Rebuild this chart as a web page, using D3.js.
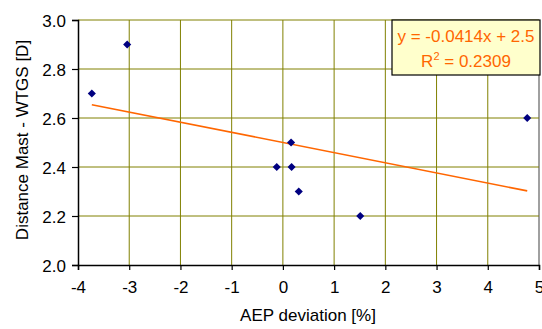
<!DOCTYPE html>
<html>
<head>
<meta charset="utf-8">
<script src="https://cdn.jsdelivr.net/npm/d3@7.9.0/dist/d3.min.js"></script>
<style>
  body { margin: 0; background: #fff; }
  text { font-family: Arial, "Liberation Sans", sans-serif; }
</style>
</head>
<body>
<svg id="chart" width="542" height="329"></svg>
<script>
// data
const aepDeviation = [-3.73, -3.04, 0.16, -0.12, 0.17, 0.31, 1.51, 4.77];
const distance     = [2.7, 2.9, 2.5, 2.4, 2.4, 2.3, 2.2, 2.6];
const xTicks = [-4, -3, -2, -1, 0, 1, 2, 3, 4, 5];
const yTicks = [2.0, 2.2, 2.4, 2.6, 2.8, 3.0];
const trendSlope = -0.0414;
const trendIntercept = 2.5;
const rSquared = 0.2309;

const svg = d3.select('#chart');
const plotLeft = 78, plotRight = 539, plotTop = 20, plotBottom = 265;

const x = d3.scaleLinear().domain([-4, 5]).range([plotLeft, plotRight]);
const y = d3.scaleLinear().domain([2.0, 3.0]).range([plotBottom, plotTop]);

// right border
svg.append('line')
  .attr('x1', plotRight).attr('x2', plotRight).attr('y1', plotTop).attr('y2', plotBottom)
  .attr('stroke', '#808080').attr('stroke-width', 1.5);

// gridlines
svg.append('g').selectAll('line').data(xTicks.filter(d => d > -4 && d < 5)).join('line')
  .attr('x1', d => x(d)).attr('x2', d => x(d))
  .attr('y1', plotTop).attr('y2', plotBottom)
  .attr('stroke', '#808000').attr('stroke-width', 1);
svg.append('g').selectAll('line').data(yTicks.filter(d => d > 2.0)).join('line')
  .attr('x1', plotLeft).attr('x2', plotRight)
  .attr('y1', d => y(d)).attr('y2', d => y(d))
  .attr('stroke', '#808000').attr('stroke-width', 1);

// axes (plain hyphen for negatives, like the original)
const xAxis = svg.append('g')
  .attr('transform', `translate(0,${plotBottom})`)
  .call(d3.axisBottom(x).tickValues(xTicks).tickSize(5).tickPadding(11).tickFormat(d => String(d)));
const yAxis = svg.append('g')
  .attr('transform', `translate(${plotLeft},0)`)
  .call(d3.axisLeft(y).tickValues(yTicks).tickSize(6).tickPadding(6).tickFormat(d => d.toFixed(1)));
[xAxis, yAxis].forEach(g => {
  g.select('.domain').attr('stroke', '#000').attr('stroke-width', 1.5);
  g.selectAll('.tick line').attr('stroke', '#000').attr('stroke-width', 1.2);
  g.selectAll('.tick text').attr('fill', '#000').style('font-size', '17px')
    .style('font-family', 'Arial, "Liberation Sans", sans-serif');
});
yAxis.selectAll('.tick text').attr('dy', '0.36em');

// trendline across the data range
const xMin = d3.min(aepDeviation), xMax = d3.max(aepDeviation);
svg.append('line')
  .attr('x1', x(xMin)).attr('y1', y(trendSlope * xMin + trendIntercept))
  .attr('x2', x(xMax)).attr('y2', y(trendSlope * xMax + trendIntercept))
  .attr('stroke', '#ff6600').attr('stroke-width', 1.6);

// points
svg.append('g').selectAll('path').data(aepDeviation).join('path')
  .attr('d', d3.symbol().type(d3.symbolDiamond2).size(42))
  .attr('transform', (d, i) => `translate(${x(d)},${y(distance[i])})`)
  .attr('fill', '#000080');

// equation box
svg.append('rect')
  .attr('x', 392).attr('y', 20).attr('width', 148).attr('height', 55)
  .attr('fill', '#ffffcc').attr('stroke', '#000').attr('stroke-width', 1.2);
const eq = svg.append('text').attr('x', 466).attr('text-anchor', 'middle')
  .attr('fill', '#ff6600').style('font-size', '17px');
eq.append('tspan').attr('x', 466).attr('y', 42).text(`y = ${trendSlope}x + ${trendIntercept}`);
const r2 = eq.append('tspan').attr('x', 466).attr('y', 67);
r2.append('tspan').text('R');
r2.append('tspan').attr('dy', -7).style('font-size', '11px').text('2');
r2.append('tspan').attr('dy', 7).text(` = ${rSquared}`);

// axis titles
svg.append('text')
  .attr('x', 308).attr('y', 321).attr('text-anchor', 'middle')
  .style('font-size', '17px').text('AEP deviation [%]');
svg.append('text')
  .attr('transform', 'translate(28,140) rotate(-90)').attr('text-anchor', 'middle')
  .style('font-size', '17px').text('Distance Mast - WTGS [D]');
</script>
</body>
</html>
